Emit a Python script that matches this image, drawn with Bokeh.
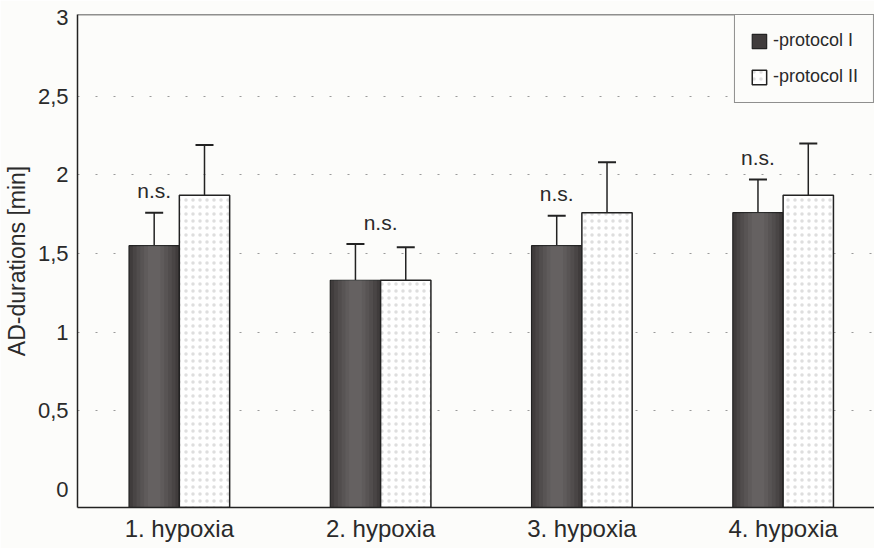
import numpy as np
from bokeh.plotting import figure
from bokeh.models import (Range1d, FixedTicker, CustomJSTickFormatter, Whisker,
                          ColumnDataSource, Span, Legend, LegendItem, TeeHead)
from bokeh.core.properties import value
from bokeh.embed import file_html
from bokeh.resources import INLINE

# ---- data -------------------------------------------------------------
categories = ["1. hypoxia", "2. hypoxia", "3. hypoxia", "4. hypoxia"]
protocol1 = [1.55, 1.33, 1.55, 1.76]
protocol1_sd = [0.21, 0.23, 0.19, 0.21]
protocol2 = [1.87, 1.33, 1.76, 1.87]
protocol2_sd = [0.32, 0.21, 0.32, 0.33]
sig_labels = ["n.s.", "n.s.", "n.s.", "n.s."]
y_ticks = [0, 0.5, 1, 1.5, 2, 2.5, 3]

# ---- style -------------------------------------------------------------
FONT = "Liberation Sans"
INK = "#2a2a2a"
BG = "#fcfcfa"
DARK = "#403c3c"
BAR_W = 0.25
Y_LO, Y_HI = -0.115, 3.02

idx = np.arange(len(categories))
x1 = idx - BAR_W / 2
x2 = idx + BAR_W / 2

p = figure(width=874, height=548,
           x_range=Range1d(-0.506, 3.454), y_range=Range1d(Y_LO, Y_HI),
           output_backend="svg", toolbar_location=None,
           min_border_left=76, min_border_right=0,
           min_border_top=14, min_border_bottom=41)
p.background_fill_color = BG
p.border_fill_color = BG
p.outline_line_color = None

# grid
p.xgrid.grid_line_color = None
p.ygrid.ticker = FixedTicker(ticks=[t for t in y_ticks if 0 < t < 3])
p.ygrid.grid_line_color = "#9a9a9a"
p.ygrid.grid_line_dash = "2 16"
p.ygrid.grid_line_width = 1.2

# bars
s1 = ColumnDataSource(dict(x=x1, top=protocol1,
                           upper=np.array(protocol1) + np.array(protocol1_sd)))
s2 = ColumnDataSource(dict(x=x2, top=protocol2,
                           upper=np.array(protocol2) + np.array(protocol2_sd)))

r1 = p.vbar(x="x", top="top", bottom=Y_LO, width=BAR_W, source=s1,
            fill_color=DARK, line_color="#222", line_width=1.2)
# lighter core to imitate the printed shading of the dark bars
for frac in (0.85, 0.7, 0.55, 0.4, 0.25):
    p.vbar(x="x", top="top", bottom=Y_LO, width=BAR_W * frac, source=s1,
           fill_color="#b5afaf", fill_alpha=0.08, line_color=None)
r2 = p.vbar(x="x", top="top", bottom=Y_LO, width=BAR_W, source=s2,
            fill_color="#ffffff", line_color="#222", line_width=1.5,
            hatch_pattern="dot", hatch_color="#333", hatch_scale=7,
            hatch_alpha=0.16, hatch_weight=1)

# error bars (upper only)
for src in (s1, s2):
    w = Whisker(source=src, base="x", lower="top", upper="upper",
                dimension="height", line_color="#222", line_width=1.5,
                lower_head=None,
                upper_head=TeeHead(size=18, line_color="#222", line_width=2))
    p.add_layout(w)

# significance labels above protocol I error bars (2nd group centred)
ns_x = [x1[i] if i != 1 else idx[i] for i in range(len(categories))]
ns_y = [protocol1[i] + protocol1_sd[i] + 0.14 for i in range(len(categories))]
p.text(x=ns_x, y=ns_y, text=sig_labels, text_align="center",
       text_baseline="middle", text_font=value(FONT), text_font_size="21px",
       text_color=INK)

# top frame line
p.add_layout(Span(location=Y_HI, dimension="width", line_color="#222",
                  line_width=1.5))

# axes
p.yaxis.ticker = FixedTicker(ticks=y_ticks)
p.yaxis.formatter = CustomJSTickFormatter(
    code="return tick.toString().replace('.', ',');")
p.yaxis.axis_label = "AD-durations [min]"
p.yaxis.axis_label_text_font = FONT
p.yaxis.axis_label_text_font_style = "normal"
p.yaxis.axis_label_text_font_size = "23px"
p.yaxis.axis_label_text_color = INK
p.yaxis.axis_label_standoff = 5

p.xaxis.ticker = FixedTicker(ticks=list(idx))
p.xaxis.major_label_overrides = {int(i): c for i, c in zip(idx, categories)}

for ax in (p.xaxis, p.yaxis):
    ax.major_tick_line_color = None
    ax.minor_tick_line_color = None
    ax.axis_line_color = "#222"
    ax.axis_line_width = 1.5
    ax.major_label_text_font = FONT
    ax.major_label_text_color = INK
p.yaxis.major_label_text_font_size = "22px"
p.yaxis.major_label_standoff = 3
p.xaxis.major_label_text_font_size = "24px"
p.xaxis.major_label_standoff = 1

# legend
legend = Legend(items=[LegendItem(label="-protocol I", renderers=[r1]),
                       LegendItem(label="-protocol II", renderers=[r2])],
                location="top_right", margin=0, padding=15, spacing=15,
                glyph_width=18, glyph_height=18, label_standoff=5,
                label_text_font=FONT, label_text_font_size="18px",
                label_text_color=INK, border_line_color="#222",
                border_line_width=1.5, background_fill_color=BG,
                background_fill_alpha=1.0)
p.add_layout(legend)

open("out.html", "w").write(file_html(p, INLINE))
